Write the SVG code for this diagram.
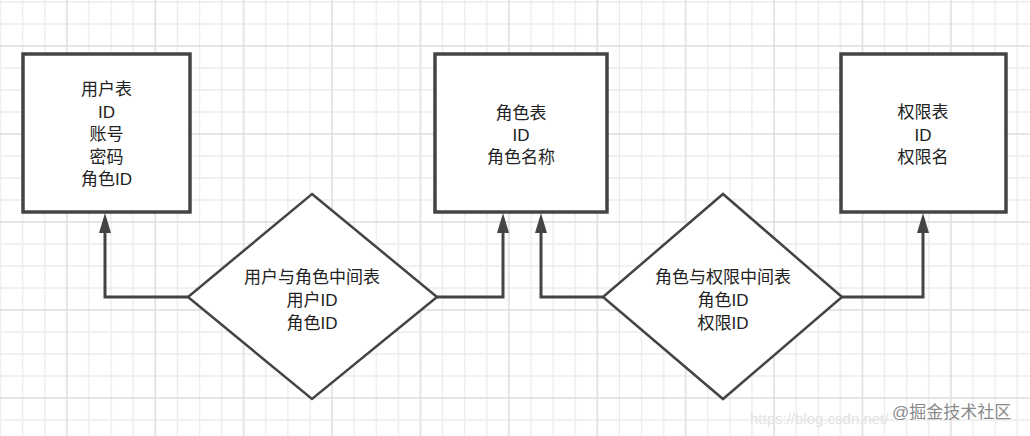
<svg xmlns="http://www.w3.org/2000/svg" width="1030" height="436" viewBox="0 0 1030 436">
<style>
.box{fill:#ffffff;stroke:#444444;stroke-width:3.5}
.dia{fill:#ffffff;stroke:#444444;stroke-width:2.5}
.conn{fill:none;stroke:#444444;stroke-width:3}
.t{font-family:"Liberation Sans","Noto Sans CJK SC",sans-serif;font-size:17px;fill:#222222;text-anchor:middle}
.minor{stroke:#ebebeb;stroke-width:1.3}
.major{stroke:#dddddd;stroke-width:1.5}
</style>
<defs>
<pattern id="grid" patternUnits="userSpaceOnUse" x="55.85" y="35" width="88.4" height="88">
<path class="minor" d="M33.15,0V88M55.25,0V88M77.35,0V88M0,33H88.4M0,55H88.4M0,77H88.4"/>
<path class="major" d="M11.05,0V88M0,11H88.4"/>
</pattern>
<marker id="arr" viewBox="0 0 20 12" refX="0" refY="6" markerWidth="20" markerHeight="12" markerUnits="userSpaceOnUse" orient="auto">
<path d="M0,0L20,6L0,12z" fill="#444444"/>
</marker>
</defs>
<rect x="0" y="0" width="1030" height="436" fill="#ffffff"/>
<rect x="0" y="0" width="1030" height="436" fill="url(#grid)"/>
<g id="connectors">
<polyline class="conn" points="188,297 105,297 105,233" marker-end="url(#arr)"/>
<polyline class="conn" points="437,297 503,297 503,233" marker-end="url(#arr)"/>
<polyline class="conn" points="603,297 541,297 541,233" marker-end="url(#arr)"/>
<polyline class="conn" points="842,297 923,297 923,233" marker-end="url(#arr)"/>
</g>
<g id="user-table">
<rect class="box" x="23" y="54" width="167" height="158"/>
<text class="t" x="106.5" y="95">用户表</text>
<text class="t" x="106.5" y="117.5">ID</text>
<text class="t" x="106.5" y="140">账号</text>
<text class="t" x="106.5" y="162.5">密码</text>
<text class="t" x="106.5" y="185">角色ID</text>
</g>
<g id="role-table">
<rect class="box" x="435" y="54" width="172" height="158"/>
<text class="t" x="521" y="119">角色表</text>
<text class="t" x="521" y="141">ID</text>
<text class="t" x="521" y="163">角色名称</text>
</g>
<g id="perm-table">
<rect class="box" x="841" y="54" width="165" height="158"/>
<text class="t" x="923" y="118">权限表</text>
<text class="t" x="923" y="141">ID</text>
<text class="t" x="923" y="163">权限名</text>
</g>
<g id="user-role">
<polygon class="dia" points="312,194 437,297 312,399 188,297"/>
<text class="t" x="312" y="283">用户与角色中间表</text>
<text class="t" x="312" y="306">用户ID</text>
<text class="t" x="312" y="329">角色ID</text>
</g>
<g id="role-perm">
<polygon class="dia" points="723,194 842,297 723,399 603,297"/>
<text class="t" x="723" y="283">角色与权限中间表</text>
<text class="t" x="723" y="306">角色ID</text>
<text class="t" x="723" y="329">权限ID</text>
</g>
<g id="watermark">
<text x="750" y="424" font-family="Liberation Sans,sans-serif" font-size="15" fill="#e2e2e2">https://blog.csdn.net/</text>
<text x="892" y="418" font-family="Liberation Sans,'Noto Sans CJK SC',sans-serif" font-size="17" fill="#8a8a8a" stroke="#ffffff" stroke-width="0.6" paint-order="stroke">@掘金技术社区</text>
</g>
</svg>
